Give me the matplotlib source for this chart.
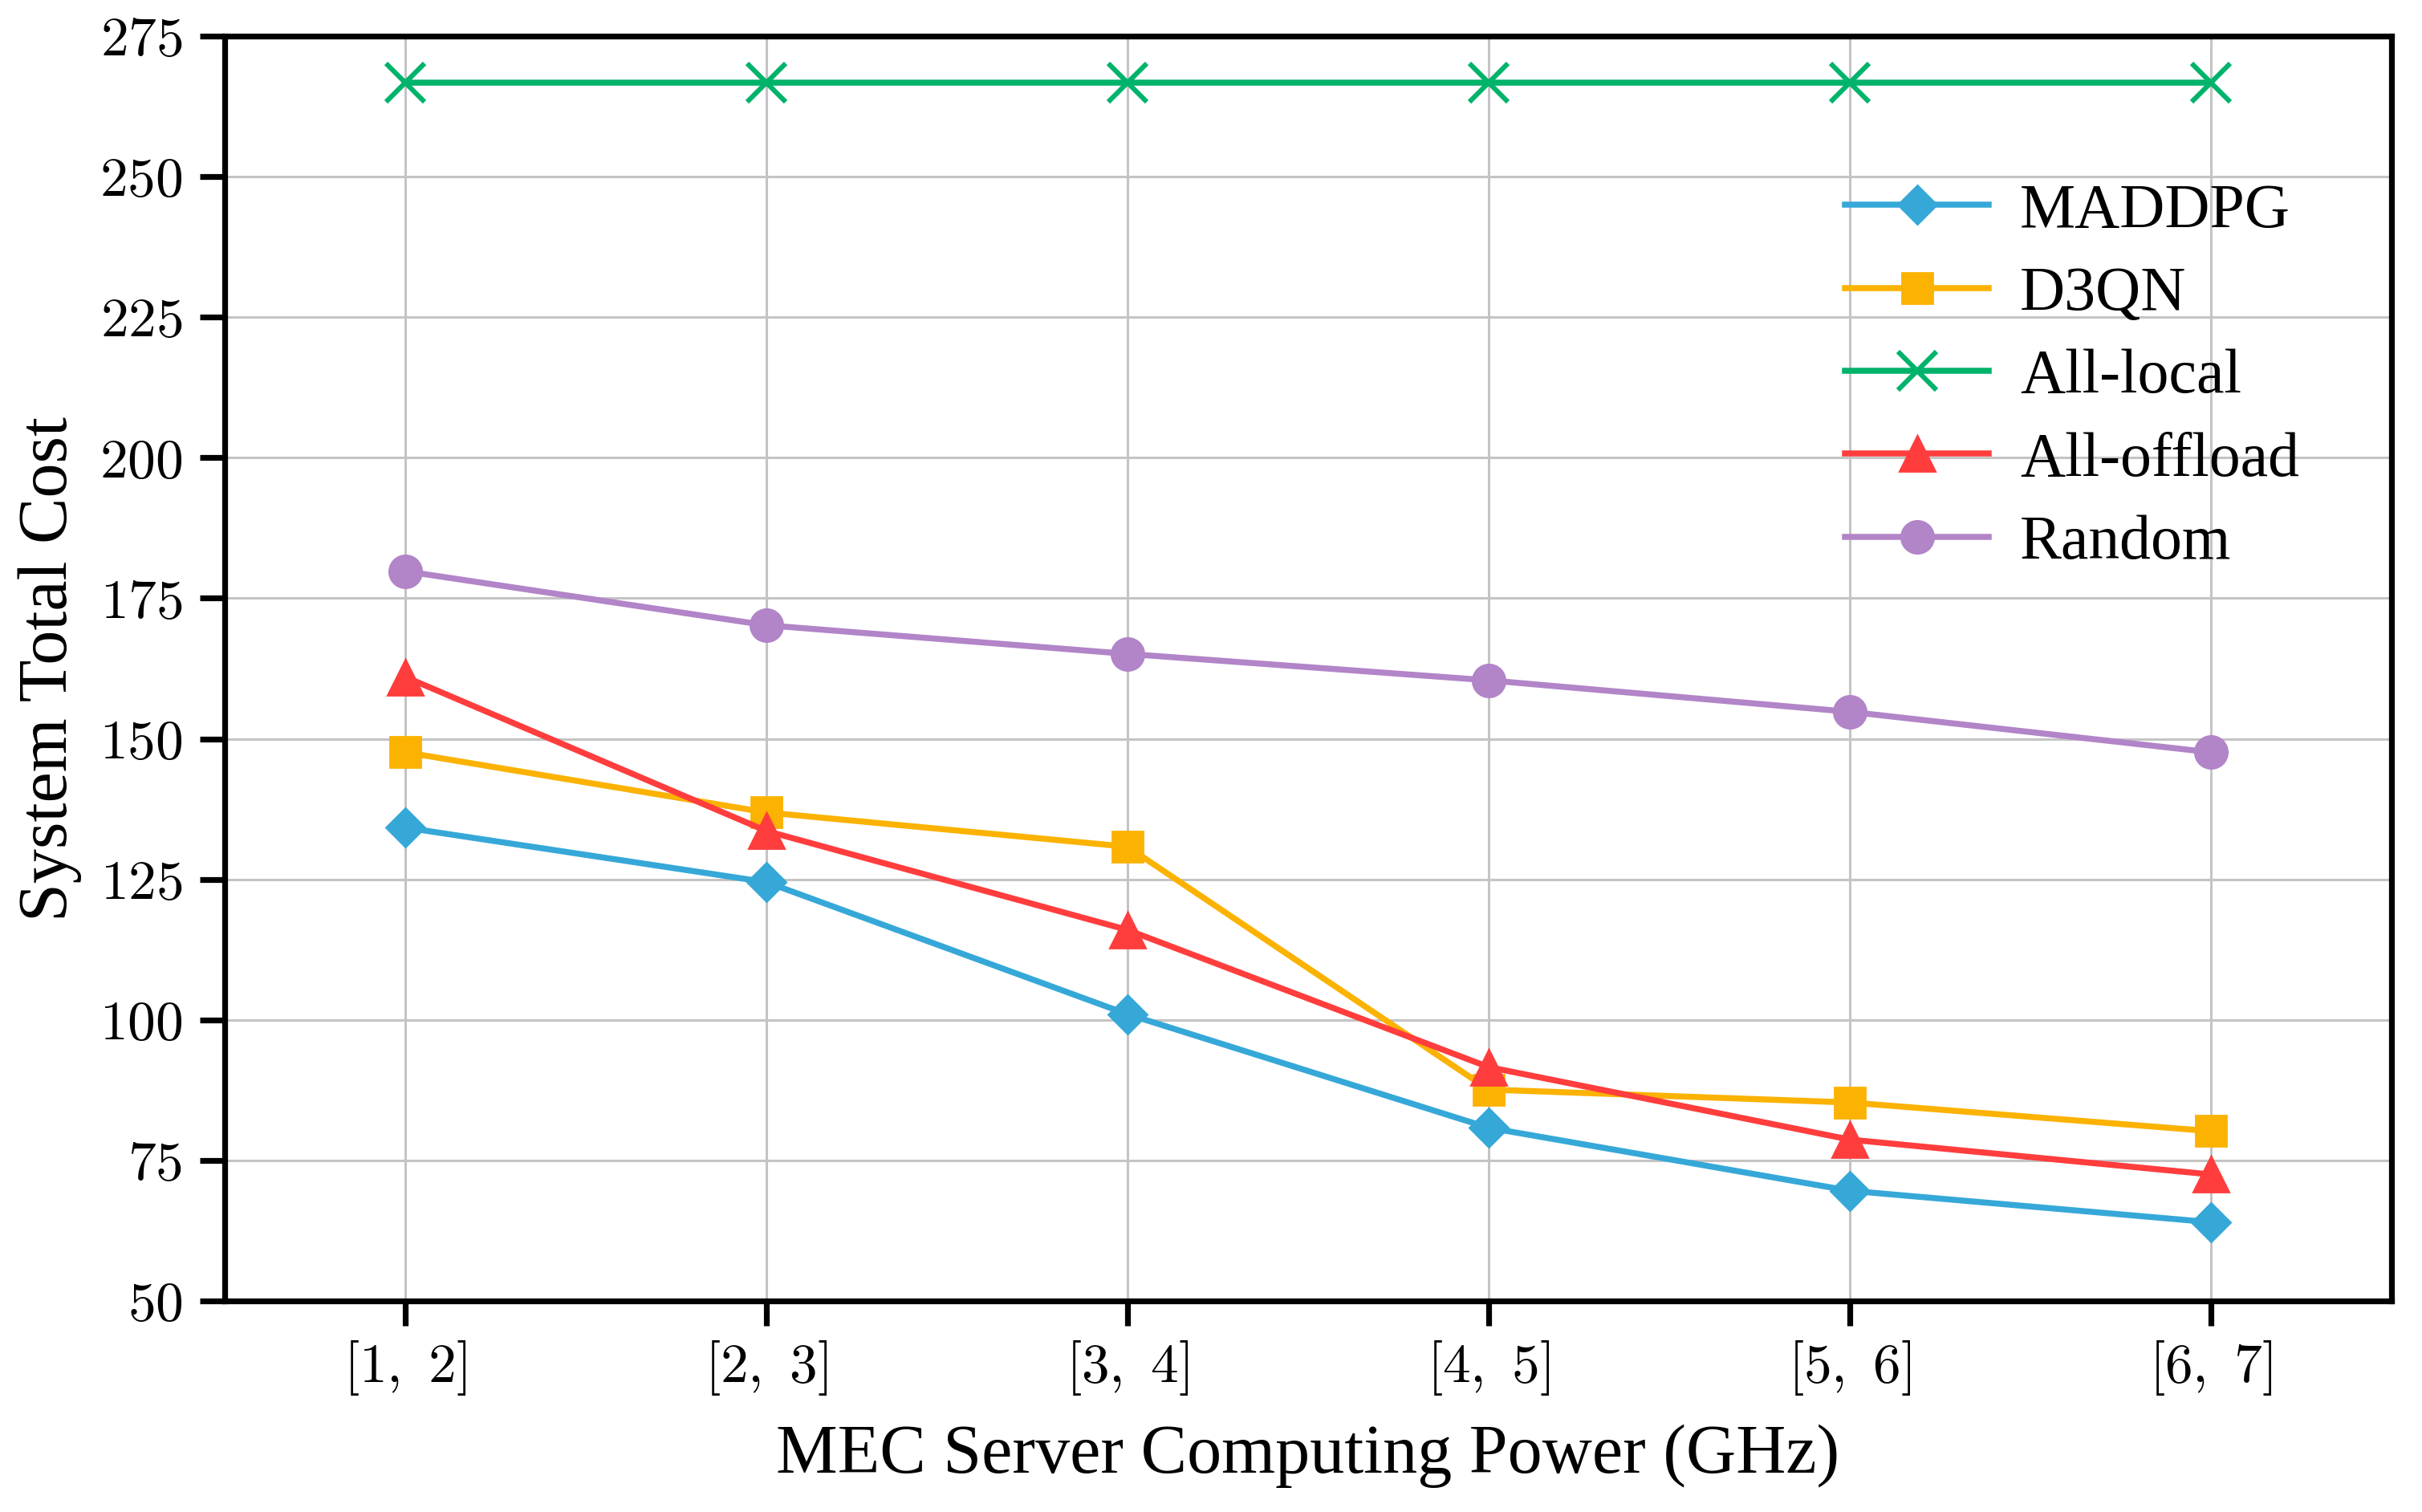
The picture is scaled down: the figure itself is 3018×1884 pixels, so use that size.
import matplotlib
matplotlib.use("Agg")
import matplotlib.pyplot as plt
from matplotlib.ticker import FuncFormatter

plt.rcParams['font.family'] = ['Liberation Serif', 'DejaVu Serif']
plt.rcParams['mathtext.fontset'] = 'cm'

# data
ranges = ['[1, 2]', '[2, 3]', '[3, 4]', '[4, 5]', '[5, 6]', '[6, 7]']
maddpg = [134.2, 124.5, 101.0, 80.8, 69.6, 64.0]
d3qn = [147.6, 136.9, 130.8, 87.6, 85.3, 80.2]
all_local = [266.7, 266.7, 266.7, 266.7, 266.7, 266.7]
all_offload = [161.0, 133.6, 116.0, 91.6, 78.7, 72.5]
rand = [179.8, 170.2, 165.1, 160.4, 154.8, 147.6]

x = list(range(len(ranges)))

fig = plt.figure(figsize=(15.09, 9.42), dpi=200)
ax = fig.add_axes([0.0928, 0.1396, 0.8946, 0.8365])

lw = 2.7
ax.plot(x, maddpg, color='#36A8D8', lw=lw, marker='D', ms=12, label='MADDPG', zorder=3)
ax.plot(x, d3qn, color='#FBB200', lw=lw, marker='s', ms=13.5, label='D3QN', zorder=3)
ax.plot(x, all_local, color='#00B36B', lw=lw, marker='x', ms=17, mew=2.2, label='All-local', zorder=3)
ax.plot(x, all_offload, color='#FF3D3D', lw=lw, marker='^', ms=16, label='All-offload', zorder=3)
ax.plot(x, rand, color='#B284C8', lw=lw, marker='o', ms=14.5, label='Random', zorder=3)

ax.set_xlim(-0.5, 5.5)
ax.set_ylim(50, 275)
ax.set_yticks(range(50, 276, 25))
ax.set_xticks(x)
ax.set_xticklabels(['$' + r.replace(' ', r'\ ') + '$' for r in ranges])
ax.yaxis.set_major_formatter(FuncFormatter(lambda v, p: '$%d$' % v))

ax.grid(True, color='#c4c4c4', lw=1.1)
ax.set_axisbelow(True)
for s in ax.spines.values():
    s.set_linewidth(2.6)
ax.tick_params(axis='both', which='major', direction='out', length=11, width=2.6,
               labelsize=25, pad=8)
ax.tick_params(axis='x', pad=6)

ax.set_xlabel('MEC Server Computing Power (GHz)', fontsize=31, labelpad=12)
ax.set_ylabel('System Total Cost', fontsize=31, labelpad=8)

ax.legend(loc='center left', bbox_to_anchor=(0.722, 0.730), frameon=False,
          fontsize=28, handlelength=2.3, labelspacing=0.41, handletextpad=0.5)

fig.savefig('out.png', dpi=200)
